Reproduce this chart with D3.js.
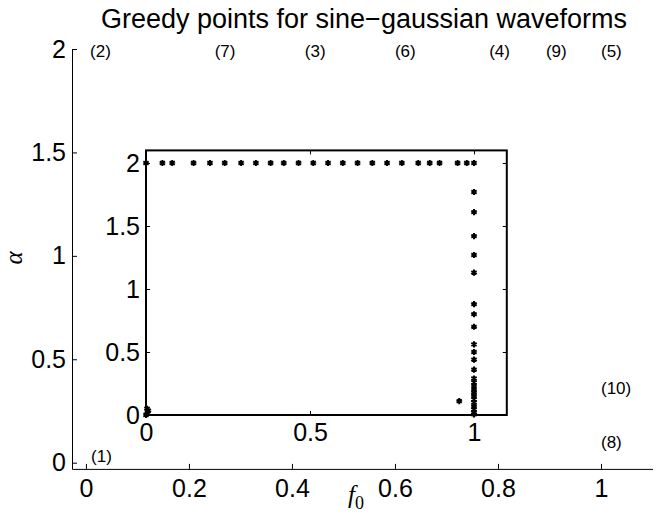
<!DOCTYPE html>
<html><head><meta charset="utf-8">
<script src="https://cdn.jsdelivr.net/npm/d3@7"></script>
<style>
body{margin:0;background:#fff;}
svg{display:block;font-family:"Liberation Sans",Arial,sans-serif;}
</style></head>
<body><svg id="c" width="657" height="512"></svg>
<script>
// ---- data ----
const title = "Greedy points for sine\u2212gaussian waveforms";
const outerXTicks = [0, 0.2, 0.4, 0.6, 0.8, 1];
const outerYTicks = [0, 0.5, 1, 1.5, 2];
const insetXTicks = [0, 0.5, 1];
const insetYTicks = [0, 0.5, 1, 1.5, 2];
const labelText = ["(1)","(2)","(3)","(4)","(5)","(6)","(7)","(8)","(9)","(10)"];
const labelX    = [0.01, 0.008, 0.425, 0.783, 1.0, 0.6, 0.25, 1.0, 0.893, 1.0];
const labelY    = [0.03, 1.99, 1.99, 1.99, 1.99, 1.99, 1.99, 0.1, 1.99, 0.36];
// greedy points: top row (alpha = 2)
const rowF0 = [0, 0.05, 0.08, 0.145, 0.195, 0.24, 0.29, 0.335, 0.38, 0.42, 0.465, 0.51,
               0.555, 0.6, 0.645, 0.69, 0.735, 0.78, 0.83, 0.865, 0.895, 0.95, 0.978, 1.0];
const rowAlpha = rowF0.map(() => 2);
// column (f0 = 1)
const colAlpha = [1.77, 1.61, 1.42, 1.27, 1.13, 0.88, 0.80, 0.70, 0.56, 0.50, 0.44, 0.36,
                  0.29, 0.26, 0.23, 0.20, 0.175, 0.15, 0.125, 0.10, 0.07, 0.045, 0.02, 0.005];
const colF0 = colAlpha.map(() => 1);
// remaining points
const extraF0    = [0.955, 0, 0.004, 0.007, 0.003];
const extraAlpha = [0.11, 0, 0.015, 0.035, 0.05];

const allF0 = rowF0.concat(colF0, extraF0);
const allAlpha = rowAlpha.concat(colAlpha, extraAlpha);

// ---- drawing ----
const svg = d3.select("#c");
const tickFont = 25;

// outer axes
const ox = d3.scaleLinear().domain([-0.027, 1.1]).range([72, 652.5]);
const oy = d3.scaleLinear().domain([-0.03, 2]).range([468.9, 49]);

const gxo = svg.append("g").attr("transform", `translate(0,${oy(-0.03)})`)
  .call(d3.axisBottom(ox).tickValues(outerXTicks).tickFormat(d3.format("~g"))
        .tickSizeInner(-5).tickSizeOuter(0).tickPadding(10));
const gyo = svg.append("g").attr("transform", `translate(${ox(-0.027)},0)`)
  .call(d3.axisLeft(oy).tickValues(outerYTicks).tickFormat(d3.format("~g"))
        .tickSizeInner(-5).tickSizeOuter(0).tickPadding(6));
[gxo, gyo].forEach(g => {
  g.selectAll("text").attr("font-size", tickFont).attr("font-family", "Liberation Sans, Arial, sans-serif").attr("fill", "#000");
  g.selectAll("line,path").attr("stroke", "#000").attr("stroke-width", 1);
});

// labels
svg.append("g").selectAll("text").data(labelText).join("text")
  .attr("x", (d, i) => ox(labelX[i]))
  .attr("y", (d, i) => oy(labelY[i]))
  .attr("dy", "0.35em")
  .attr("font-size", 17)
  .text(d => d);

// title
svg.append("text").attr("x", 364).attr("y", 28).attr("text-anchor", "middle")
  .attr("font-size", 27).text(title);

// axis labels
svg.append("text").attr("x", 356).attr("y", 503).attr("text-anchor", "middle")
  .attr("font-family", "Liberation Serif, Times New Roman, serif").attr("font-style", "italic")
  .attr("font-size", 25)
  .html('f<tspan dy="6" font-size="18" font-style="normal">0</tspan>');
svg.append("text").attr("transform", "translate(22,258) rotate(-90)")
  .attr("text-anchor", "middle")
  .attr("font-family", "Liberation Serif, Times New Roman, serif").attr("font-style", "italic")
  .attr("font-size", 25).text("\u03b1");

// inset axes
const ix = d3.scaleLinear().domain([0, 1.1]).range([146, 506.8]);
const iy = d3.scaleLinear().domain([0, 2.1]).range([415, 150.4]);
const inset = svg.append("g");
inset.append("rect").attr("x", ix(0)).attr("y", iy(2.1))
  .attr("width", ix(1.1) - ix(0)).attr("height", iy(0) - iy(2.1))
  .attr("fill", "#fff").attr("stroke", "#000").attr("stroke-width", 2);

const gb = inset.append("g").attr("transform", `translate(0,${iy(0)})`)
  .call(d3.axisBottom(ix).tickValues(insetXTicks).tickFormat(d3.format("~g"))
        .tickSizeInner(-4).tickSizeOuter(0).tickPadding(8));
const gl = inset.append("g").attr("transform", `translate(${ix(0)},0)`)
  .call(d3.axisLeft(iy).tickValues(insetYTicks).tickFormat(d3.format("~g"))
        .tickSizeInner(-4).tickSizeOuter(0).tickPadding(6));
const gt = inset.append("g").attr("transform", `translate(0,${iy(2.1)})`)
  .call(d3.axisTop(ix).tickValues(insetXTicks).tickFormat("").tickSizeInner(-4).tickSizeOuter(0));
const gr = inset.append("g").attr("transform", `translate(${ix(1.1)},0)`)
  .call(d3.axisRight(iy).tickValues(insetYTicks).tickFormat("").tickSizeInner(-4).tickSizeOuter(0));
[gb, gl, gt, gr].forEach(g => {
  g.selectAll("text").attr("font-size", tickFont).attr("font-family", "Liberation Sans, Arial, sans-serif").attr("fill", "#000");
  g.selectAll("line").attr("stroke", "#000").attr("stroke-width", 1);
  g.select("path.domain").attr("stroke", "none");
});

// markers
const sym = d3.symbol().type(d3.symbolAsterisk).size(26);
inset.append("g").selectAll("path").data(allF0).join("path")
  .attr("transform", (d, i) => `translate(${ix(d)},${iy(allAlpha[i])})`)
  .attr("d", sym)
  .attr("fill", "none").attr("stroke", "#000").attr("stroke-width", 2);
</script></body></html>
